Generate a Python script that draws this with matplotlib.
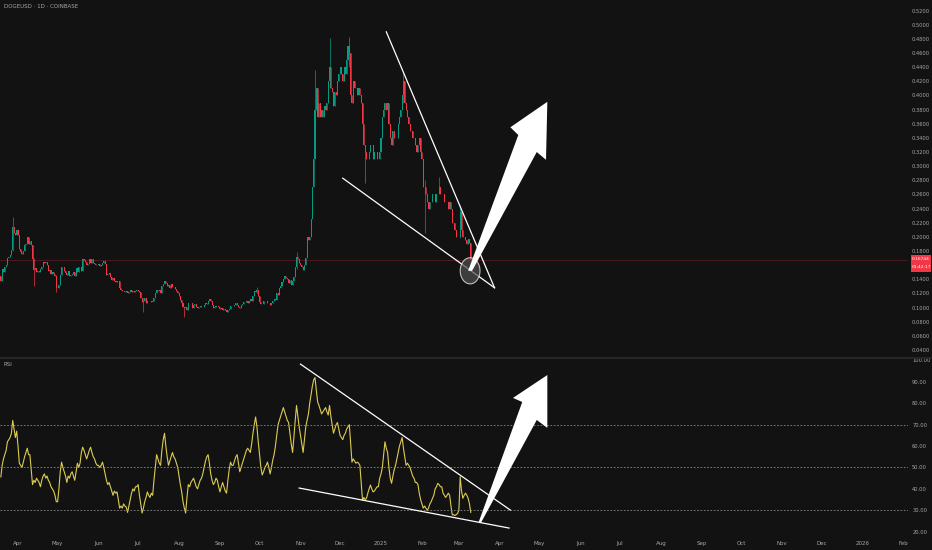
import numpy as np
import matplotlib
matplotlib.use("Agg")
import matplotlib.pyplot as plt
import matplotlib.dates as mdates
from matplotlib.patches import Ellipse, Polygon, Rectangle
from matplotlib.lines import Line2D

# ---- daily closes DOGEUSD (Coinbase, 1D), 2024-03-19 .. 2025-03-10 ----
first_open = 0.145
mar24 = [0.138, 0.155, 0.150, 0.157, 0.160, 0.170, 0.172, 0.174, 0.182, 0.214, 0.206, 0.203, 0.210]
apr24 = [0.203, 0.183, 0.178, 0.176, 0.180, 0.188, 0.190, 0.200, 0.190, 0.194, 0.188, 0.168, 0.153, 0.156, 0.150,
         0.152, 0.150, 0.155, 0.157, 0.165, 0.163, 0.165, 0.160, 0.152, 0.153, 0.147, 0.151, 0.148, 0.145, 0.127]
may24 = [0.128, 0.132, 0.146, 0.158, 0.158, 0.152, 0.149, 0.146, 0.152, 0.145, 0.146, 0.147, 0.151, 0.145, 0.156,
         0.151, 0.158, 0.158, 0.152, 0.168, 0.167, 0.164, 0.160, 0.162, 0.168, 0.163, 0.168, 0.163, 0.162, 0.160, 0.160]
jun24 = [0.161, 0.159, 0.160, 0.163, 0.166, 0.162, 0.146, 0.147, 0.149, 0.143, 0.139, 0.142, 0.138, 0.136, 0.138,
         0.137, 0.128, 0.125, 0.124, 0.123, 0.122, 0.123, 0.120, 0.122, 0.125, 0.122, 0.124, 0.122, 0.124, 0.125]
jul24 = [0.123, 0.122, 0.114, 0.108, 0.110, 0.113, 0.106, 0.110, 0.110, 0.109, 0.108, 0.110, 0.114, 0.120, 0.125,
         0.124, 0.125, 0.121, 0.130, 0.134, 0.137, 0.135, 0.130, 0.132, 0.128, 0.133, 0.129, 0.129, 0.126, 0.123, 0.121]
aug24 = [0.117, 0.111, 0.106, 0.101, 0.099, 0.101, 0.097, 0.106, 0.106, 0.106, 0.100, 0.104, 0.105, 0.101, 0.100,
         0.101, 0.102, 0.101, 0.101, 0.103, 0.106, 0.105, 0.110, 0.112, 0.110, 0.104, 0.099, 0.101, 0.102, 0.102, 0.101]
sep24 = [0.098, 0.100, 0.097, 0.098, 0.097, 0.094, 0.096, 0.098, 0.102, 0.102, 0.102, 0.104, 0.106, 0.104, 0.101,
         0.099, 0.103, 0.105, 0.108, 0.108, 0.110, 0.107, 0.110, 0.112, 0.110, 0.117, 0.123, 0.122, 0.125, 0.117]
oct24 = [0.108, 0.105, 0.105, 0.110, 0.109, 0.110, 0.107, 0.107, 0.104, 0.106, 0.110, 0.112, 0.111, 0.121, 0.118,
         0.128, 0.131, 0.136, 0.140, 0.145, 0.142, 0.140, 0.135, 0.139, 0.132, 0.138, 0.143, 0.158, 0.172, 0.168, 0.163]
nov24 = [0.160, 0.158, 0.153, 0.160, 0.170, 0.200, 0.195, 0.200, 0.225, 0.270, 0.310, 0.380, 0.410, 0.370, 0.390,
         0.370, 0.380, 0.370, 0.385, 0.380, 0.390, 0.420, 0.440, 0.410, 0.405, 0.385, 0.405, 0.400, 0.420, 0.430]
dec24 = [0.440, 0.430, 0.420, 0.440, 0.430, 0.450, 0.470, 0.460, 0.400, 0.390, 0.420, 0.410, 0.410, 0.400, 0.410,
         0.400, 0.390, 0.360, 0.330, 0.320, 0.310, 0.310, 0.320, 0.330, 0.330, 0.310, 0.320, 0.320, 0.310, 0.310, 0.320]
jan25 = [0.340, 0.370, 0.380, 0.390, 0.380, 0.390, 0.360, 0.340, 0.330, 0.350, 0.340, 0.340, 0.340, 0.360, 0.370,
         0.380, 0.400, 0.420, 0.390, 0.380, 0.370, 0.360, 0.350, 0.350, 0.340, 0.340, 0.330, 0.320, 0.330, 0.340, 0.320]
feb25 = [0.310, 0.270, 0.270, 0.260, 0.250, 0.240, 0.250, 0.250, 0.260, 0.260, 0.250, 0.260, 0.260, 0.270, 0.260,
         0.260, 0.260, 0.250, 0.250, 0.250, 0.240, 0.250, 0.240, 0.220, 0.220, 0.210, 0.200, 0.200]
mar25 = [0.200, 0.235, 0.210, 0.200, 0.200, 0.195, 0.190, 0.197, 0.192, 0.167]

# notable wicks
wick_dates = ["2024-03-28", "2024-04-13", "2024-04-30", "2024-07-05", "2024-08-05", "2024-09-29", "2024-10-29",
              "2024-11-12", "2024-11-23", "2024-12-08", "2024-12-20", "2025-01-18", "2025-02-03", "2025-02-14",
              "2025-03-02"]
wick_high = [0.228, 0.170, 0.146, 0.114, 0.101, 0.129, 0.178, 0.436, 0.481, 0.483, 0.330, 0.432, 0.280, 0.285, 0.245]
wick_low = [0.180, 0.130, 0.122, 0.094, 0.087, 0.120, 0.155, 0.310, 0.410, 0.440, 0.276, 0.390, 0.205, 0.260, 0.198]

# RSI(14)
rsi = [45.6, 51, 54, 56, 58, 62, 63, 64, 66, 72, 68, 64, 67, 60, 52, 51, 50, 52.5, 55, 57,
       59, 56, 56, 49, 42, 44, 43, 45, 44, 43, 41, 44, 46, 47, 45, 46, 44, 43, 41, 40,
       39, 37, 34, 34, 40, 48, 52.5, 50, 48, 46, 43, 46, 45, 47, 48, 46, 44, 48, 52, 50,
       52, 57, 59.5, 58, 56, 54, 56, 58, 59.5, 57, 55, 54, 52, 51, 51, 50, 51, 52.5, 50, 47,
       44, 42, 43, 41, 39, 37, 39, 38, 38.6, 35, 31, 32, 31, 33, 32, 31.5, 29, 32, 35, 38,
       40, 39, 41, 41, 42, 37, 33, 28.7, 31, 34, 36, 38.6, 37, 36, 38, 37, 44, 50, 56, 54,
       52, 51, 58, 63, 66, 60, 55, 51, 53, 55, 57, 55, 54, 52, 50, 46, 42, 38.6, 34, 31,
       28.7, 36, 42, 41, 43, 44, 45, 43, 41, 40, 42, 44, 45, 47, 50, 53, 55, 56, 52, 47,
       44, 42, 43, 45, 44, 41, 38.6, 41, 43, 41, 39, 38, 44, 49, 52.5, 51, 51, 53, 55, 56,
       52, 48, 50, 52, 54, 56, 58, 59, 58, 57, 61, 66, 70, 73.6, 69, 62, 56, 50, 46.5, 48,
       50, 51, 52.5, 50, 47, 50, 53.5, 56, 60, 65, 70, 72, 74, 76, 78, 76, 74, 72, 71, 66,
       61, 57, 64, 72, 79, 74, 69, 65, 61, 57, 63, 69, 72, 75, 80, 84, 88, 91, 92, 86,
       80.6, 79, 77, 75, 76, 77, 78, 76, 74.5, 79, 74, 70, 66, 68, 70, 71, 68, 65, 64, 63,
       65, 66, 68, 69, 70, 61, 52.5, 54, 53, 52, 52.5, 52, 51, 43, 34.7, 36, 35, 35.6, 38, 40,
       41.8, 40, 38.6, 39, 40, 41, 41, 45, 47, 50, 56, 62, 59, 57, 50, 45, 42.6, 46, 49, 51,
       54, 57, 60, 62, 64, 59, 55, 51, 52, 51, 50, 48, 46, 45, 43, 43, 42, 38, 35, 33,
       31, 32, 31, 30, 31, 33, 34, 35.6, 37, 40, 41, 42.6, 42, 41, 41, 38, 37, 36, 37, 38,
       37, 32, 27.8, 28, 27.5, 28, 28.5, 30, 45.6, 39, 35.6, 37, 38, 37, 35.6, 33, 29]

last_price = 0.16744
price_ticks = [round(0.04 + 0.02 * k, 2) for k in range(25)]
rsi_ticks = [20, 30, 40, 50, 60, 70, 80, 90, 100]
month_labels = ["Apr", "May", "Jun", "Jul", "Aug", "Sep", "Oct", "Nov", "Dec", "2025", "Feb", "Mar",
                "Apr", "May", "Jun", "Jul", "Aug", "Sep", "Oct", "Nov", "Dec", "2026", "Feb"]

# drawings (date, value)
price_upper = (["2025-01-05", "2025-03-28"], [0.490, 0.128])
price_lower = (["2024-12-03", "2025-03-28"], [0.283, 0.128])
price_arrow = [("2025-03-08", 0.152), ("2025-04-15", 0.344), ("2025-04-09", 0.355), ("2025-05-07", 0.391),
               ("2025-05-06", 0.309), ("2025-04-29", 0.320), ("2025-03-11", 0.152)]
rsi_upper = (["2024-11-01", "2025-04-09"], [98.3, 30.1])
rsi_lower = (["2024-10-31", "2025-04-08"], [40.4, 21.7])
rsi_arrow = [("2025-03-16", 24.5), ("2025-04-18", 80.6), ("2025-04-11", 82.5), ("2025-05-07", 93.2),
             ("2025-05-07", 68.5), ("2025-04-29", 72.2), ("2025-03-18", 24.5)]

BG = "#121212"
UP = "#089981"
DOWN = "#f23645"
TXT = "#a8a8a8"
FS = 3.7


def d(s):
    return mdates.date2num(np.datetime64(s))


closes = np.array(mar24 + apr24 + may24 + jun24 + jul24 + aug24 + sep24 + oct24 + nov24 + dec24 + jan25 + feb25 + mar25)
opens = np.concatenate([[first_open], closes[:-1]])
dates = np.arange(np.datetime64("2024-03-19"), np.datetime64("2024-03-19") + len(closes))
x = mdates.date2num(dates)
highs = np.maximum(opens, closes)
lows = np.minimum(opens, closes)
for ds, hi, lo in zip(wick_dates, wick_high, wick_low):
    k = int((np.datetime64(ds) - dates[0]).astype(int))
    highs[k] = max(highs[k], hi)
    lows[k] = min(lows[k], lo)
colors = np.where(closes >= opens, UP, DOWN)

fig = plt.figure(figsize=(9.32, 5.5), dpi=100, facecolor=BG)
ax = fig.add_axes([0, 0.3509, 0.9742, 0.6491], facecolor=BG)
ax2 = fig.add_axes([0, 0.0273, 0.9742, 0.3200], facecolor=BG, sharex=ax)

# candles
ax.vlines(x, lows, highs, colors=colors, lw=0.5)
ax.bar(x, np.abs(closes - opens), bottom=np.minimum(opens, closes), width=0.8, color=colors, linewidth=0)
ax.axhline(last_price, color=DOWN, lw=0.5, alpha=0.35)

ax.plot([d(s) for s in price_upper[0]], price_upper[1], color="white", lw=0.9)
ax.plot([d(s) for s in price_lower[0]], price_lower[1], color="white", lw=0.9)
ax.add_patch(Ellipse((d("2025-03-09") + 0.5, 0.152), 15, 0.037, facecolor="#505050", alpha=0.7,
                     edgecolor="white", lw=0.8, zorder=4))
ax.add_patch(Polygon([(d(s), v) for s, v in price_arrow], closed=True, facecolor="white", edgecolor="none", zorder=5))

ax.set_ylim(0.0301, 0.535)
ax.set_yticks(price_ticks)
ax.set_yticklabels([f"{t:.4f}" for t in price_ticks])
ax.yaxis.tick_right()
ax.tick_params(axis="y", length=0, pad=3, labelsize=FS, labelcolor=TXT)
ax.tick_params(axis="x", length=0, labelbottom=False)

# RSI panel
ax2.plot(x, rsi, color="#dccb52", lw=0.8)
for lvl in (70, 50, 30):
    ax2.axhline(lvl, color="#8a8a8a", lw=0.6, ls=(0, (2, 2)))
ax2.plot([d(s) for s in rsi_upper[0]], rsi_upper[1], color="white", lw=0.9)
ax2.plot([d(s) for s in rsi_lower[0]], rsi_lower[1], color="white", lw=0.9)
ax2.add_patch(Polygon([(d(s), v) for s, v in rsi_arrow], closed=True, facecolor="white", edgecolor="none", zorder=5))
ax2.set_ylim(18.46, 100.7)
ax2.set_yticks(rsi_ticks)
ax2.set_yticklabels([f"{t:.2f}" for t in rsi_ticks])
ax2.yaxis.tick_right()
ax2.tick_params(axis="y", length=0, pad=3, labelsize=FS, labelcolor=TXT)

months = np.arange(np.datetime64("2024-04"), np.datetime64("2026-03"), dtype="datetime64[M]")
ax2.set_xticks(mdates.date2num(months.astype("datetime64[D]")))
ax2.set_xticklabels(month_labels)
ax2.tick_params(axis="x", length=0, pad=4, labelsize=4.0, labelcolor=TXT)
ax2.set_xlim(d("2024-04-01") - 13.64, d("2024-04-01") + 674.2)

for a in (ax, ax2):
    for sp in a.spines.values():
        sp.set_visible(False)

fig.add_artist(Line2D([0, 1], [1 - 357.5 / 550, 1 - 357.5 / 550], transform=fig.transFigure,
                      color="#262626", lw=1.5))
fig.text(4 / 932, 1 - 7 / 550, "DOGEUSD · 1D · COINBASE", fontsize=4.0, color=TXT, va="center")
fig.text(4 / 932, 1 - 365 / 550, "RSI", fontsize=4.0, color=TXT, va="center")

fig.add_artist(Rectangle((911 / 932, 1 - 272 / 550), 20 / 932, 17 / 550, transform=fig.transFigure,
                         facecolor=DOWN, edgecolor="none"))
fig.text(921 / 932, 1 - 259.5 / 550, f"{last_price:.5f}", fontsize=3.2, color="white", ha="center", va="center")
fig.text(921 / 932, 1 - 267 / 550, "01:42:17", fontsize=3.2, color="white", ha="center", va="center")

fig.savefig("out.png", dpi=100, facecolor=BG)
